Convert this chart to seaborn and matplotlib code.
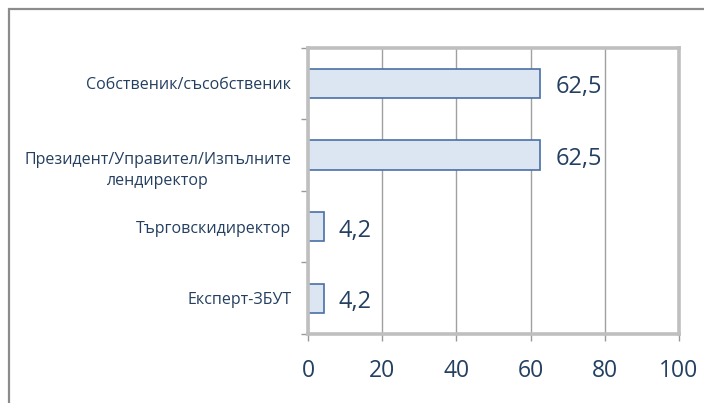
import matplotlib
matplotlib.use("Agg")
import matplotlib.pyplot as plt
import seaborn as sns
import pandas as pd
from matplotlib.patches import Rectangle
from matplotlib.ticker import FixedLocator
from matplotlib.transforms import ScaledTranslation

categories = [
    "Собственик/съсобственик",
    "Президент/Управител/Изпълните\nлендиректор",
    "Търговскидиректор",
    "Експерт-ЗБУТ",
]
values = [62.5, 62.5, 4.2, 4.2]
x_ticks = [0, 20, 40, 60, 80, 100]

text_color = "#243f60"
bar_fill = "#dce6f2"
bar_edge = "#4a6fa5"
frame_gray = "#bfbfbf"

sns.set_theme(style="white")
plt.rcParams["font.family"] = ["Open Sans", "DejaVu Sans"]

df = pd.DataFrame({"role": categories, "pct": values})

fig = plt.figure(figsize=(7.04, 4.03), dpi=100)
ax = fig.add_axes([308 / 704, 1 - 334 / 403, (679 - 308) / 704, (334 - 47.5) / 403])

sns.barplot(data=df, y="role", x="pct", orient="h", width=0.41,
            color=bar_fill, edgecolor=bar_edge, linewidth=1.2, saturation=1, ax=ax)

ax.set_xlim(0, 100)
ax.xaxis.set_major_locator(FixedLocator(x_ticks))
ax.grid(axis="x", color="#a0a0a0", linewidth=1.0)
ax.set_axisbelow(True)
ax.set_xlabel("")
ax.set_ylabel("")

for side in ["top", "right", "bottom", "left"]:
    ax.spines[side].set_color(frame_gray)
    ax.spines[side].set_linewidth(2.6)

# tick styling
ax.tick_params(axis="x", which="major", length=5, width=1, color="#999999",
               direction="out", bottom=True, pad=13, labelsize=16.5, labelcolor=text_color)
ax.tick_params(axis="y", which="major", length=0, pad=12, labelsize=11.5, labelcolor=text_color)
ax.yaxis.set_minor_locator(FixedLocator([i - 0.5 for i in range(len(categories) + 1)]))
ax.tick_params(axis="y", which="minor", length=5, width=1, color="#999999", left=True)
for lbl in ax.get_yticklabels():
    lbl.set_multialignment("center")
    lbl.set_linespacing(1.4)
    if "\n" in lbl.get_text():
        # first line sits level with the bar, second hangs below
        lbl.set_transform(lbl.get_transform() + ScaledTranslation(0, -8 / 72, fig.dpi_scale_trans))

# value labels with decimal comma
labels = [f"{v:.1f}".replace(".", ",") for v in values]
texts = ax.bar_label(ax.containers[0], labels=labels, padding=11, fontsize=17, color=text_color)
for t in texts:
    t.xyann = (11, -3)

# outer chart frame (only left and top visible in the crop)
fig.patches.append(Rectangle((9 / 704, -0.1), 2, 1 - 9 / 403 + 0.1, transform=fig.transFigure,
                             fill=False, edgecolor="#8c8c8c", linewidth=1.6))

fig.savefig("out.png", dpi=100)
